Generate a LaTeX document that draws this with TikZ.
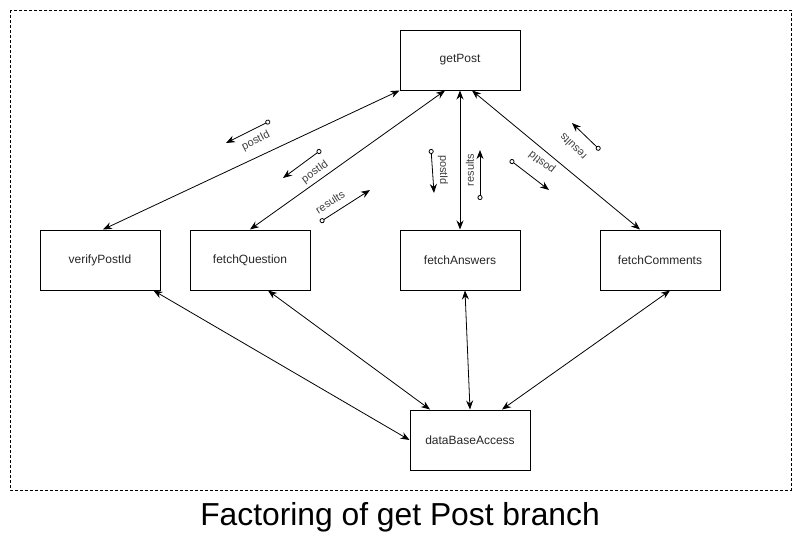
\documentclass[tikz,border=0pt]{standalone}
\usepackage{fontspec}
\setmainfont{Liberation Sans}
\usetikzlibrary{arrows.meta}

\tikzset{
  block/.style={draw, line width=1pt, minimum width=120pt, minimum height=60pt, inner sep=0pt, font=\fontsize{12}{14}\selectfont, text=black!85},
  link/.style={{Stealth[length=9pt,width=7pt]}-{Stealth[length=9pt,width=7pt]}, line width=0.8pt},
  flow/.style={{Circle[open,length=5pt,width=5pt]}-{Stealth[length=9pt,width=7pt]}, line width=0.8pt},
  lbl/.style={font=\fontsize{11}{13}\selectfont, text=black!75, inner sep=0pt},
}

\begin{document}
\begin{tikzpicture}[x=1pt, y=-1pt]
    \useasboundingbox (0,0) rectangle (801,546);
    % frame
    \draw[dashed, line width=0.8pt, dash pattern=on 3pt off 2pt] (10,10) rectangle (791,490);
    \node (caption) at (400,517) {\fontsize{31.8}{36}\selectfont Factoring of get Post branch};

    % boxes
    \node[block] (getPost) at (460,60) {getPost};
    \node[block] (verifyPostId) at (100,260) {verifyPostId};
    \node[block] (fetchQuestion) at (250,260) {fetchQuestion};
    \node[block] (fetchAnswers) at (460,260) {fetchAnswers};
    \node[block] (fetchComments) at (660,260) {fetchComments};
    \node[block] (dataBaseAccess) at (470,440) {dataBaseAccess};

    % links to getPost
    \draw[link] (getPost.south west) -- ([xshift=3pt]verifyPostId.north);
    \draw[link] ([xshift=-15pt]getPost.south) -- (fetchQuestion.north);
    \draw[link] (getPost.south) -- (fetchAnswers.north);
    \draw[link] ([xshift=12pt]getPost.south) -- ([xshift=-20pt]fetchComments.north);

    % links to dataBaseAccess
    \draw[link] ([xshift=-7pt]verifyPostId.south east) -- (dataBaseAccess.west);
    \draw[link] ([xshift=18pt]fetchQuestion.south) -- ([xshift=-40pt]dataBaseAccess.north);
    \draw[link] ([xshift=5pt]fetchAnswers.south) -- (dataBaseAccess.north);
    \draw[link] ([xshift=10pt]fetchComments.south) -- ([xshift=32pt]dataBaseAccess.north);

    % data flows
    \coordinate (a1) at (270,121); \coordinate (a2) at (226,143);
    \draw[flow] (a1) -- (a2);
    \node[lbl, rotate=27] (aLbl) at (256,141) {postId};

    \coordinate (b1) at (321,150); \coordinate (b2) at (283,178);
    \draw[flow] (b1) -- (b2);
    \node[lbl, rotate=36] (bLbl) at (315,172) {postId};

    \coordinate (c1) at (320,222); \coordinate (c2) at (370,190);
    \draw[flow] (c1) -- (c2);
    \node[lbl, rotate=33] (cLbl) at (330,202) {results};

    \coordinate (d1) at (431,149); \coordinate (d2) at (434,193);
    \draw[flow] (d1) -- (d2);
    \node[lbl, rotate=-90] (dLbl) at (443,170) {postId};

    \coordinate (e1) at (480,200); \coordinate (e2) at (480,150);
    \draw[flow] (e1) -- (e2);
    \node[lbl, rotate=90] (eLbl) at (470,170) {results};

    \coordinate (f1) at (510,160); \coordinate (f2) at (549,190);
    \draw[flow] (f1) -- (f2);
    \node[lbl, rotate=142] (fLbl) at (542,162) {postId};

    \coordinate (g1) at (600,150); \coordinate (g2) at (572,123);
    \draw[flow] (g1) -- (g2);
    \node[lbl, rotate=136] (gLbl) at (573,147) {results};
\end{tikzpicture}
\end{document}
